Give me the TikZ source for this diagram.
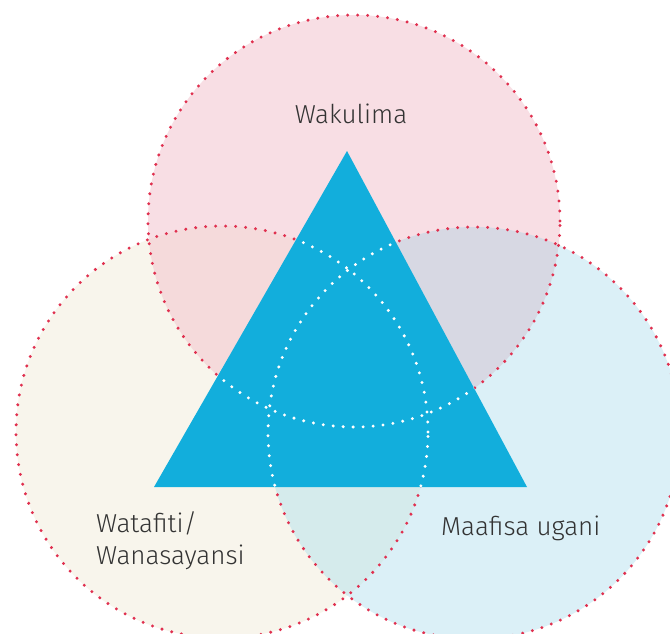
\documentclass[tikz,border=0pt]{standalone}
\usepackage{fontspec}
\IfFontExistsTF{Fira Sans Light}{\setmainfont{Fira Sans Light}}{\setmainfont{Fira Sans}}
\definecolor{toppink}{HTML}{F8DEE4}
\definecolor{leftcream}{HTML}{F8F5EC}
\definecolor{rightblue}{HTML}{DBF0F7}
\definecolor{tlmix}{HTML}{F5DADB}
\definecolor{trmix}{HTML}{D7D8E3}
\definecolor{lrmix}{HTML}{D5EBEC}
\definecolor{triblue}{HTML}{12AEDC}
\definecolor{dotred}{HTML}{E0304F}
\definecolor{txtgrey}{HTML}{333333}
\tikzset{
  dotline/.style={line width=3.3pt, line cap=round, dash pattern=on 0pt off 10pt},
  lbl/.style={text=txtgrey, font=\fontsize{26}{32}\selectfont, inner sep=0pt, align=left}
}
\begin{document}
\begin{tikzpicture}[x=1pt,y=-1pt]
\useasboundingbox (0,0) rectangle (670,634);
\clip (0,0) rectangle (670,634);
\fill[white] (0,0) rectangle (670,634);
\coordinate (ct) at (354,221);
\coordinate (cl) at (222,432);
\coordinate (cr) at (474,433);
\def\rr{206pt}
% base fills
\fill[toppink] (ct) circle[radius=\rr];
\fill[leftcream] (cl) circle[radius=\rr];
\fill[rightblue] (cr) circle[radius=\rr];
% overlaps
\begin{scope}
  \clip (ct) circle[radius=\rr];
  \fill[tlmix] (cl) circle[radius=\rr];
  \fill[trmix] (cr) circle[radius=\rr];
\end{scope}
\begin{scope}
  \clip (cl) circle[radius=\rr];
  \fill[lrmix] (cr) circle[radius=\rr];
\end{scope}
% red dotted outlines
\draw[dotline, dotred] (ct) circle[radius=\rr];
\draw[dotline, dotred] (cl) circle[radius=\rr];
\draw[dotline, dotred] (cr) circle[radius=\rr];
% triangle
\coordinate (ta) at (347,151);
\coordinate (tb) at (154,487);
\coordinate (tc) at (527,487);
\fill[triblue] (ta) -- (tb) -- (tc) -- cycle;
\begin{scope}
  \clip (ta) -- (tb) -- (tc) -- cycle;
  \draw[dotline, white] (ct) circle[radius=\rr];
  \draw[dotline, white] (cl) circle[radius=\rr];
  \draw[dotline, white] (cr) circle[radius=\rr];
\end{scope}
% labels
\node[lbl, anchor=base] (wakulima) at (351,124) {Wakulima};
\node[lbl, anchor=base west] (watafiti) at (96,564) {Watafiti/\\Wanasayansi};
\node[lbl, anchor=base west] (maafisa) at (441,535) {Maafisa ugani};
\end{tikzpicture}
\end{document}
